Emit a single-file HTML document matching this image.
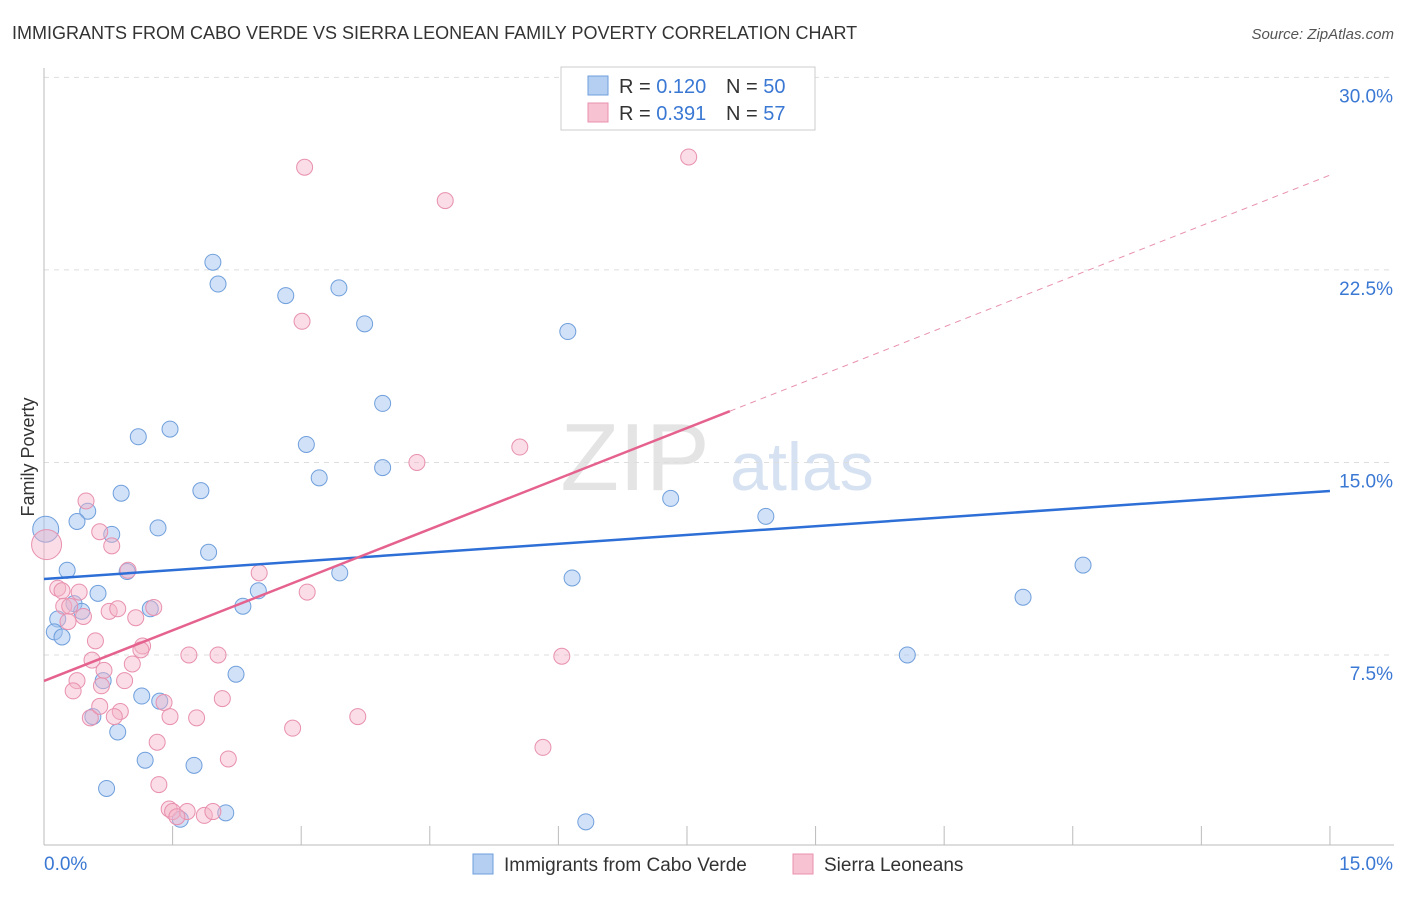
<!DOCTYPE html>
<html><head><meta charset="utf-8"><style>
body{margin:0;background:#fff;font-family:"Liberation Sans",sans-serif;}
svg text{font-family:"Liberation Sans",sans-serif;}
</style></head><body>
<svg id="chart" width="1406" height="892" viewBox="0 0 1406 892">
<text x="12" y="39" font-size="18" fill="#333">IMMIGRANTS FROM CABO VERDE VS SIERRA LEONEAN FAMILY POVERTY CORRELATION CHART</text>
<text x="1394" y="39" font-size="15" fill="#555" font-style="italic" text-anchor="end">Source: ZipAtlas.com</text>
<text x="34" y="457" font-size="18" fill="#333" transform="rotate(-90 34 457)" text-anchor="middle">Family Poverty</text>
<text x="635" y="490" font-size="96" fill="#e4e4e4" font-family="Liberation Serif" text-anchor="middle">ZIP</text>
<text x="802" y="490" font-size="68" fill="#d6e2f2" text-anchor="middle">atlas</text>
<g id="grid"></g><g id="ticks"></g><g id="pts"></g><g id="lines"></g>
<g>
<rect x="561" y="67" width="254" height="63" fill="#fff" stroke="#ccc"/>
<rect x="588" y="76" width="20" height="19" fill="#b5cff2" stroke="#6f9fdc"/>
<rect x="588" y="103" width="20" height="19" fill="#f7c3d3" stroke="#e890ae"/>
<text x="619" y="93" font-size="20" fill="#333">R = <tspan fill="#3a78d4">0.120</tspan></text>
<text x="726" y="93" font-size="20" fill="#333">N = <tspan fill="#3a78d4">50</tspan></text>
<text x="619" y="120" font-size="20" fill="#333">R = <tspan fill="#3a78d4">0.391</tspan></text>
<text x="726" y="120" font-size="20" fill="#333">N = <tspan fill="#3a78d4">57</tspan></text>
</g>
<g>
<rect x="473" y="854" width="20" height="20" fill="#b5cff2" stroke="#6f9fdc"/>
<text x="504" y="871" font-size="19" fill="#333">Immigrants from Cabo Verde</text>
<rect x="793" y="854" width="20" height="20" fill="#f7c3d3" stroke="#e890ae"/>
<text x="824" y="871" font-size="19" fill="#333">Sierra Leoneans</text>
</g>
</svg>
<script>
const xTicks=[0,1.5,3,4.5,6,7.5,9,10.5,12,13.5,15];
const yTicks=[7.5,15,22.5,30];
const yTickLabels=["7.5%","15.0%","22.5%","30.0%"];
const blueX=[1.97,2.03,2.82,3.44,3.74,6.11,3.95,1.10,1.47,3.06,3.95,3.21,0.90,1.83,0.51,0.385,0.79,1.33,0.02,1.92,0.27,0.97,3.45,6.16,0.63,2.50,0.35,0.44,1.24,2.32,0.16,0.12,0.21,2.24,0.69,1.14,1.35,0.57,0.86,1.18,1.75,0.73,2.12,1.59,6.32,7.31,8.42,12.12,11.42,10.07];
const blueY=[22.8,21.95,21.5,21.8,20.4,20.1,17.3,16.0,16.3,15.7,14.8,14.4,13.8,13.9,13.1,12.7,12.2,12.45,12.4,11.5,10.8,10.75,10.7,10.5,9.9,10.0,9.5,9.2,9.3,9.4,8.9,8.4,8.2,6.75,6.5,5.9,5.7,5.1,4.5,3.4,3.2,2.3,1.35,1.1,1.0,13.6,12.9,11.0,9.75,7.5];
const pinkX=[3.04,4.68,7.52,3.01,5.55,4.35,0.49,0.03,0.65,0.79,0.98,0.16,0.21,0.41,3.07,2.51,0.23,0.30,0.76,0.86,1.28,0.46,0.28,1.07,0.60,1.15,1.13,1.69,2.03,6.04,0.56,1.03,0.70,0.385,0.94,0.67,0.34,2.08,1.40,0.89,0.54,0.82,1.47,1.78,3.66,2.90,1.32,5.82,2.15,1.34,1.46,1.50,1.67,1.87,1.55,0.65,1.97];
const pinkY=[26.5,25.2,26.9,20.5,15.6,15.0,13.5,11.8,12.3,11.75,10.8,10.1,10.0,9.95,9.95,10.7,9.4,9.4,9.2,9.3,9.35,9.0,8.8,8.95,8.05,7.85,7.7,7.5,7.5,7.45,7.3,7.15,6.9,6.5,6.5,6.3,6.1,5.8,5.65,5.3,5.05,5.1,5.1,5.05,5.1,4.65,4.1,3.9,3.45,2.45,1.5,1.4,1.4,1.25,1.2,5.5,1.4];
const blueFit=[10.46,13.89];
const pinkFit=[6.49,0.3933*85.73/25.67];
const sx=v=>44+v*85.73, sy=v=>847.5-v*25.67;
const NS="http://www.w3.org/2000/svg";
function mk(tag,attrs,parent){const e=document.createElementNS(NS,tag);for(const k in attrs)e.setAttribute(k,attrs[k]);document.getElementById(parent).appendChild(e);return e;}
yTicks.forEach((t,i)=>{
 const g=mk('line',{x1:44,x2:1394,y1:sy(t),y2:sy(t),stroke:'#ddd','stroke-dasharray':'5,5'},'grid');
 
 
 const l=mk('text',{x:1393,y:sy(t)+25,'font-size':19,fill:'#3a78d4','text-anchor':'end'},'ticks');l.textContent=yTickLabels[i];
 
 
});
const ax=mk('line',{x1:44,x2:44,y1:68,y2:845,stroke:'#bbb'},'ticks');


const bx=mk('line',{x1:44,x2:1394,y1:845,y2:845,stroke:'#bbb'},'ticks');


xTicks.forEach(t=>{const e=mk('line',{x1:sx(t),x2:sx(t),y1:826,y2:845,stroke:'#bbb'},'ticks');
 
 });
const x0=mk('text',{x:44,y:870,'font-size':19,fill:'#3a78d4'},'ticks');x0.textContent='0.0%';


const x1=mk('text',{x:1393,y:870,'font-size':19,fill:'#3a78d4','text-anchor':'end'},'ticks');x1.textContent='15.0%';


blueX.forEach((v,i)=>{const c=mk('circle',{cx:sx(v),cy:sy(blueY[i]),r:v<0.05?13:8,fill:'rgba(164,196,240,0.5)',stroke:'#6f9fdc','stroke-width':1},'pts');
 
 });
pinkX.forEach((v,i)=>{const c=mk('circle',{cx:sx(v),cy:sy(pinkY[i]),r:v<0.05?15:8,fill:'rgba(244,180,200,0.45)',stroke:'#e890ae','stroke-width':1},'pts');
 
 });
const bl=mk('line',{x1:sx(0),y1:sy(blueFit[0]),x2:sx(15),y2:sy(blueFit[1]),stroke:'#2d6fd6','stroke-width':2.5},'lines');


const xm=8.0;
const pl=mk('line',{x1:sx(0),y1:sy(pinkFit[0]),x2:sx(xm),y2:sy(pinkFit[0]+pinkFit[1]*xm),stroke:'#e5628f','stroke-width':2.5},'lines');


const pd=mk('line',{x1:sx(xm),y1:sy(pinkFit[0]+pinkFit[1]*xm),x2:sx(15),y2:sy(pinkFit[0]+pinkFit[1]*15),stroke:'#e890ae','stroke-width':1,'stroke-dasharray':'6,5'},'lines');


</script>
</body></html>
